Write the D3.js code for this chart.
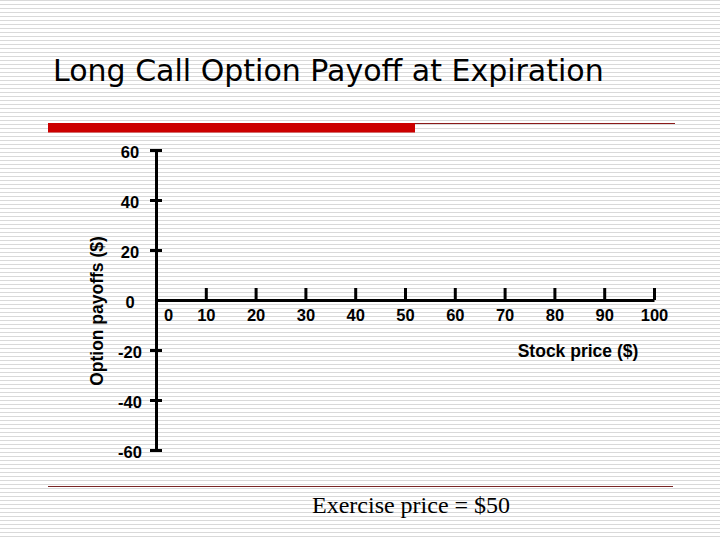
<!DOCTYPE html>
<html>
<head>
<meta charset="utf-8">
<script src="https://cdn.jsdelivr.net/npm/d3@7"></script>
<style>
    html, body { margin: 0; padding: 0; background: #fff; }
    svg { display: block; }
</style>
</head>
<body>
<div id="chart"></div>
<script>
var xTicks = [0, 10, 20, 30, 40, 50, 60, 70, 80, 90, 100],
    yTicks = [-60, -40, -20, 0, 20, 40, 60],
    exercisePrice = 50;

var width = 720,
    height = 540,
    svg = d3.select("#chart").append("svg")
        .attr("width", width)
        .attr("height", height),
    x = d3.scaleLinear()
        .domain([0, 100])
        .range([156, 654]),
    y = d3.scaleLinear()
        .domain([-60, 60])
        .range([450, 150]);

// striped slide background
var defs = svg.append("defs");
defs.append("pattern")
    .attr("id", "stripes")
    .attr("width", 8)
    .attr("height", 4)
    .attr("patternUnits", "userSpaceOnUse")
    .append("rect")
    .attr("width", 8)
    .attr("height", 1)
    .attr("fill", "#d9d9d9");

svg.append("rect")
    .attr("width", width)
    .attr("height", height)
    .attr("fill", "url(#stripes)");

// title and the red rules
svg.append("text")
    .attr("x", 53)
    .attr("y", 81)
    .attr("font-family", "'DejaVu Sans', Verdana, sans-serif")
    .attr("font-size", 30)
    .attr("fill", "#000")
    .text("Long Call Option Payoff at Expiration");

svg.append("line")
    .attr("x1", 48).attr("x2", 675)
    .attr("y1", 123.5).attr("y2", 123.5)
    .attr("stroke", "#8b1a1a")
    .attr("stroke-width", 1);

svg.append("rect")
    .attr("x", 48).attr("y", 123)
    .attr("width", 367).attr("height", 9.5)
    .attr("fill", "#cc0000");

svg.append("line")
    .attr("x1", 48).attr("x2", 673)
    .attr("y1", 486.5).attr("y2", 486.5)
    .attr("stroke", "#7a2626")
    .attr("stroke-width", 1);

// x axis, ticks pointing up, labels below
var xAxis = svg.append("g")
    .attr("transform", "translate(0," + y(0) + ")")
    .call(d3.axisBottom(x).tickValues(xTicks).tickFormat(function (d) { return String(d); })
        .tickSizeInner(-12).tickSizeOuter(0).tickPadding(9));

// y axis, ticks crossing the line
var yAxis = svg.append("g")
    .attr("transform", "translate(" + x(0) + ",0)")
    .call(d3.axisLeft(y).tickValues(yTicks).tickFormat(function (d) { return String(d); })
        .tickSizeInner(6).tickSizeOuter(0).tickPadding(0));

[xAxis, yAxis].forEach(function (g) {
    g.attr("font-family", "'Liberation Sans', Arial, sans-serif")
        .attr("font-size", 16.5)
        .attr("font-weight", "bold");
    g.select(".domain")
        .attr("stroke", "#000")
        .attr("stroke-width", 3);
    g.selectAll(".tick line")
        .attr("stroke", "#000")
        .attr("stroke-width", 3);
    g.selectAll(".tick text")
        .attr("fill", "#000");
});

xAxis.selectAll(".tick")
    .filter(function (d) { return d === 0; })
    .select("line").remove();
xAxis.selectAll(".tick")
    .filter(function (d) { return d === 0; })
    .select("text").attr("dx", 12);

yAxis.selectAll(".tick line")
    .attr("x1", 6)
    .attr("x2", -6);
yAxis.selectAll(".tick")
    .filter(function (d) { return d === 0; })
    .select("line").remove();
yAxis.selectAll(".tick text")
    .attr("text-anchor", "middle")
    .attr("x", -26)
    .attr("y", 2);

// axis titles
svg.append("text")
    .attr("transform", "translate(103," + 311 + ") rotate(-90)")
    .attr("text-anchor", "middle")
    .attr("font-family", "'Liberation Sans', Arial, sans-serif")
    .attr("font-weight", "bold")
    .attr("font-size", 17.5)
    .text("Option payoffs ($)");

svg.append("text")
    .attr("x", 578)
    .attr("y", 357)
    .attr("text-anchor", "middle")
    .attr("font-family", "'Liberation Sans', Arial, sans-serif")
    .attr("font-weight", "bold")
    .attr("font-size", 17.5)
    .text("Stock price ($)");

// footnote
svg.append("text")
    .attr("x", 312)
    .attr("y", 513)
    .attr("font-family", "'Liberation Serif', 'Times New Roman', serif")
    .attr("font-size", 24)
    .text("Exercise price = $" + exercisePrice);
</script>
</body>
</html>
